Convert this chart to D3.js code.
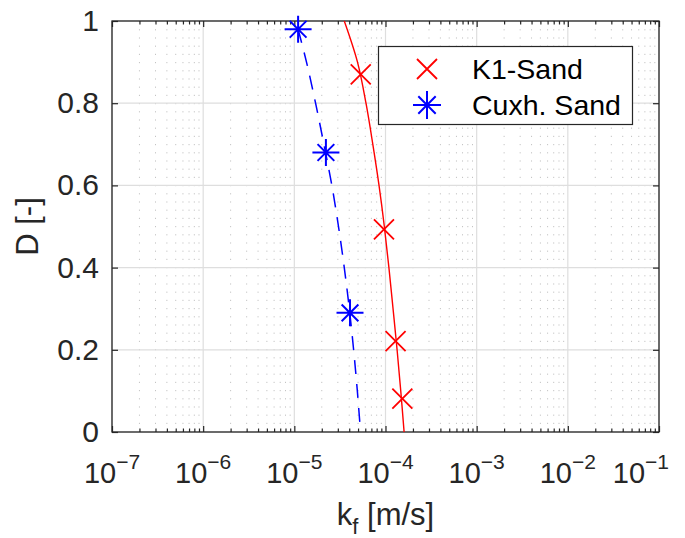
<!DOCTYPE html>
<html>
<head>
<meta charset="utf-8">
<script src="https://cdn.jsdelivr.net/npm/d3@7"></script>
<style>
  body { margin: 0; background: #fff; }
  svg { display: block; font-family: "Liberation Sans", Arial, Helvetica, sans-serif; }
</style>
</head>
<body>
<svg id="chart" width="685" height="538"></svg>
<script>
// values
const k1FitD = [1.0, 0.9, 0.8, 0.7, 0.6, 0.5, 0.4, 0.3, 0.2, 0.1, 0.0]
const k1FitK = [3.53e-5, 4.93e-5, 6.11e-5, 7.26e-5, 8.49e-5, 9.71e-5, 1.09e-4, 1.21e-4, 1.34e-4, 1.47e-4, 1.60e-4]
const k1MeasD = [0.87, 0.493, 0.221, 0.081]
const k1MeasK = [5.35e-5, 9.62e-5, 1.29e-4, 1.53e-4]

const cuxFitD = [0.98, 0.9, 0.8, 0.7, 0.6, 0.5, 0.4, 0.3, 0.2, 0.1, 0.0]
const cuxFitK = [1.10e-5, 1.36e-5, 1.71e-5, 2.11e-5, 2.58e-5, 3.05e-5, 3.53e-5, 4.01e-5, 4.47e-5, 4.91e-5, 5.32e-5]
const cuxMeasD = [0.98, 0.68, 0.29]
const cuxMeasK = [1.10e-5, 2.22e-5, 4.08e-5]

const xTickExps = [-7, -6, -5, -4, -3, -2, -1]
const yTicks = [0, 0.2, 0.4, 0.6, 0.8, 1]
const yTickLabels = ["0", "0.2", "0.4", "0.6", "0.8", "1"]
const legendNames = ["K1-Sand", "Cuxh. Sand"]

const W = 685, H = 538
const M = {top: 21, right: 26, bottom: 106, left: 112}
const iw = W - M.left - M.right
const ih = H - M.top - M.bottom
const AXIS_COLOR = "#262626"
const RED = "#ff0000", BLUE = "#0000ff"
const TICK_FONT = 30

const svg = d3.select("#chart")
const g = svg.append("g").attr("transform", `translate(${M.left},${M.top})`)

const X_SCALE = d3.scaleLog().domain([1e-7, 1e-1]).range([0, iw])
const Y_SCALE = d3.scaleLinear().domain([0, 1]).range([ih, 0])

const majorX = xTickExps.map(e => Math.pow(10, e))
const minorX = X_SCALE.ticks().filter(v => Math.abs(Math.log10(v) - Math.round(Math.log10(v))) > 1e-6)

// grid
g.append("g").selectAll("line").data(minorX).join("line")
  .attr("x1", d => X_SCALE(d)).attr("x2", d => X_SCALE(d))
  .attr("y1", 0).attr("y2", ih)
  .attr("stroke", "#c4c4c4").attr("stroke-width", 1)
  .attr("stroke-dasharray", "1.2,7")
g.append("g").selectAll("line").data(majorX).join("line")
  .attr("x1", d => X_SCALE(d)).attr("x2", d => X_SCALE(d))
  .attr("y1", 0).attr("y2", ih)
  .attr("stroke", "#dedede").attr("stroke-width", 1.2)
g.append("g").selectAll("line").data(yTicks).join("line")
  .attr("x1", 0).attr("x2", iw)
  .attr("y1", d => Y_SCALE(d)).attr("y2", d => Y_SCALE(d))
  .attr("stroke", "#dedede").attr("stroke-width", 1.2)

// ticks (pointing inwards, box on)
function styleAxis(sel) {
  sel.select(".domain").remove()
  sel.selectAll("line").attr("stroke", AXIS_COLOR).attr("stroke-width", 1.2)
  sel.selectAll("text").remove()
}
g.append("g").attr("transform", `translate(0,${ih})`)
  .call(d3.axisBottom(X_SCALE).tickValues(majorX).tickSize(-6)).call(styleAxis)
g.append("g").attr("transform", `translate(0,${ih})`)
  .call(d3.axisBottom(X_SCALE).tickValues(minorX).tickSize(-3.5)).call(styleAxis)
g.append("g")
  .call(d3.axisTop(X_SCALE).tickValues(majorX).tickSize(-6)).call(styleAxis)
g.append("g")
  .call(d3.axisTop(X_SCALE).tickValues(minorX).tickSize(-3.5)).call(styleAxis)
g.append("g")
  .call(d3.axisLeft(Y_SCALE).tickValues(yTicks).tickSize(-6)).call(styleAxis)
g.append("g").attr("transform", `translate(${iw},0)`)
  .call(d3.axisRight(Y_SCALE).tickValues(yTicks).tickSize(-6)).call(styleAxis)

// frame
g.append("rect").attr("x", 0).attr("y", 0).attr("width", iw).attr("height", ih)
  .attr("fill", "none").attr("stroke", AXIS_COLOR).attr("stroke-width", 1.3)

// tick labels
const xLab = g.append("g").selectAll("text").data(xTickExps).join("text")
  .attr("x", d => X_SCALE(Math.pow(10, d)))
  .attr("y", ih + 51)
  .attr("text-anchor", "middle")
  .attr("fill", AXIS_COLOR)
  .attr("font-size", TICK_FONT - 1)
xLab.append("tspan").text("10")
xLab.append("tspan").attr("dy", -14).attr("font-size", 21).text(d => "\u2212" + Math.abs(d))
// keep the last label inside the figure, as the reference does
xLab.each(function () {
  const b = this.getBBox()
  const right = M.left + b.x + b.width
  if (right > W - 16) d3.select(this).attr("x", +d3.select(this).attr("x") - (right - (W - 16)))
})

g.append("g").selectAll("text").data(yTicks).join("text")
  .attr("x", -13)
  .attr("y", d => Y_SCALE(d))
  .attr("dy", "0.33em")
  .attr("text-anchor", "end")
  .attr("fill", AXIS_COLOR)
  .attr("font-size", TICK_FONT)
  .text((d, i) => yTickLabels[i])

// axis titles
const xTitle = svg.append("text")
  .attr("x", M.left + iw / 2).attr("y", 525)
  .attr("text-anchor", "middle").attr("fill", AXIS_COLOR).attr("font-size", 31)
xTitle.append("tspan").text("k")
xTitle.append("tspan").attr("dy", 9).attr("font-size", 22).text("f")
xTitle.append("tspan").attr("dy", -9).text(" [m/s]")

svg.append("text")
  .attr("transform", `translate(38,${M.top + ih / 2}) rotate(-90)`)
  .attr("text-anchor", "middle").attr("fill", AXIS_COLOR).attr("font-size", 31)
  .text("D [-]")

// markers
function drawCross(sel, cx, cy, r, color) {
  sel.append("path")
    .attr("d", `M${cx - r},${cy - r}L${cx + r},${cy + r}M${cx - r},${cy + r}L${cx + r},${cy - r}`)
    .attr("stroke", color).attr("stroke-width", 1.8).attr("fill", "none")
}
function drawStar(sel, cx, cy, r, color) {
  const d = r * 0.62
  sel.append("path")
    .attr("d", `M${cx - r},${cy}L${cx + r},${cy}M${cx},${cy - r}L${cx},${cy + r}` +
      `M${cx - d},${cy - d}L${cx + d},${cy + d}M${cx - d},${cy + d}L${cx + d},${cy - d}`)
    .attr("stroke", color).attr("stroke-width", 2).attr("fill", "none")
}

const plot = g.append("g")

// fitted curves
const k1Line = d3.line()
  .x((d, i) => X_SCALE(k1FitK[i]))
  .y(d => Y_SCALE(d))
  .curve(d3.curveCatmullRom.alpha(0.5))
plot.append("path").datum(k1FitD).attr("d", k1Line)
  .attr("fill", "none").attr("stroke", RED).attr("stroke-width", 1.4)

const cuxLine = d3.line()
  .x((d, i) => X_SCALE(cuxFitK[i]))
  .y(d => Y_SCALE(d))
  .curve(d3.curveCatmullRom.alpha(0.5))
plot.append("path").datum(cuxFitD).attr("d", cuxLine)
  .attr("fill", "none").attr("stroke", BLUE).attr("stroke-width", 1.5)
  .attr("stroke-dasharray", "14,10")

k1MeasD.forEach((dv, i) => drawCross(plot, X_SCALE(k1MeasK[i]), Y_SCALE(dv), 10, RED))
cuxMeasD.forEach((dv, i) => drawStar(plot, X_SCALE(cuxMeasK[i]), Y_SCALE(dv), 13.5, BLUE))

// legend
const leg = svg.append("g")
leg.append("rect").attr("x", 378.5).attr("y", 46.5).attr("width", 254).attr("height", 78)
  .attr("fill", "#fff").attr("stroke", AXIS_COLOR).attr("stroke-width", 1.2)
drawCross(leg, 427, 69, 10, RED)
drawStar(leg, 427, 105, 14, BLUE)
leg.selectAll("text").data(legendNames).join("text")
  .attr("x", 472).attr("y", (d, i) => 69 + i * 36)
  .attr("dy", "0.36em")
  .attr("fill", "#000").attr("font-size", 28.5)
  .text(d => d)
</script>
</body>
</html>
